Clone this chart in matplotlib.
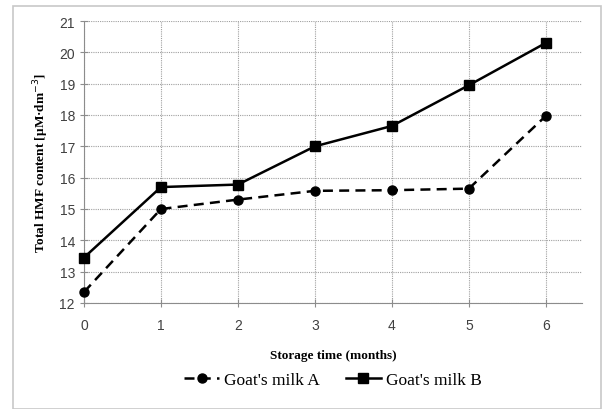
import matplotlib

matplotlib.use("Agg")
import matplotlib.pyplot as plt
from matplotlib.font_manager import FontProperties
from matplotlib.patches import Rectangle

months = [0, 1, 2, 3, 4, 5, 6]
milk_a = [12.35, 15.0, 15.3, 15.58, 15.6, 15.65, 17.97]
milk_b = [13.45, 15.7, 15.78, 17.0, 17.65, 18.95, 20.3]
y_ticks = list(range(12, 22))

fig = plt.figure(figsize=(6.03, 4.10), dpi=100)
# outer chart frame (Excel chart area)
fig.patches.append(Rectangle((13 / 603, 0.0), 588 / 603, 1 - 7 / 410, transform=fig.transFigure,
                             fill=False, edgecolor="#c8c8c8", linewidth=1.2))

ax = fig.add_axes([84 / 603, 1 - 304 / 410, (582 - 84) / 603, (304 - 22) / 410])
ax.plot(months, milk_a, color="black", linestyle=(0, (4, 2.5)), linewidth=1.8,
        marker="o", markersize=6.5, label="Goat's milk A", clip_on=False, zorder=3)
ax.plot(months, milk_b, color="black", linestyle="-", linewidth=1.8,
        marker="s", markersize=6.5, label="Goat's milk B", clip_on=False, zorder=3)

ax.set_xlim(0, 6.47)
ax.set_ylim(12, 21)
ax.set_xticks(months)
ax.set_yticks(y_ticks)
ax.grid(True, color="#a0a0a0", linestyle=(0, (1, 1)), linewidth=0.8)
ax.set_axisbelow(True)
for side in ("top", "right"):
    ax.spines[side].set_visible(False)
for side in ("left", "bottom"):
    ax.spines[side].set_color("#8c8c8c")
ax.tick_params(direction="inout", length=6, color="#8c8c8c", labelcolor="#404040",
               labelsize=10)
for lbl in ax.get_xticklabels() + ax.get_yticklabels():
    lbl.set_family("Liberation Sans")
ax.tick_params(axis="x", pad=8)

serif_bold = FontProperties(family="Liberation Serif", weight="bold", size=9.5)
ax.set_xlabel("Storage time (months)", fontproperties=serif_bold, labelpad=12)
ax.set_ylabel("Total HMF content [\u00b5M\u00b7dm$^{-3}$]", fontproperties=serif_bold,
              labelpad=6)

fig.legend(loc="center", bbox_to_anchor=(333 / 603, 1 - 381 / 410), ncol=2, frameon=False,
           prop=FontProperties(family="Liberation Serif", size=12.5), handlelength=2.0,
           handletextpad=0.3, columnspacing=1.5)

fig.savefig("out.png", dpi=100)
